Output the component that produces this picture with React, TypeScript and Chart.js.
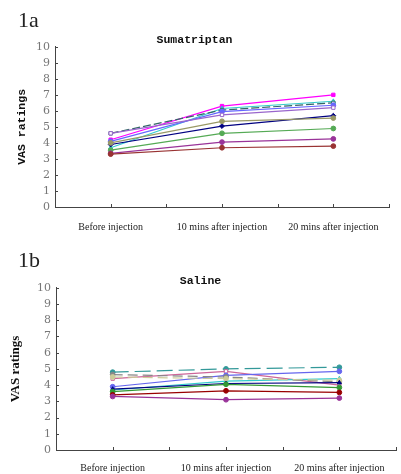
import React, { useEffect, useRef } from "react";
import { Chart, registerables } from "chart.js";

Chart.register(...registerables);

const categories = ["Before injection", "10 mins after injection", "20 mins after injection"];
const yTicks = [0, 1, 2, 3, 4, 5, 6, 7, 8, 9, 10];

// 1a Sumatriptan
const sumaMagenta = [4.2, 6.3, 7.0];
const sumaCyan = [3.7, 6.15, 6.6];
const sumaTeal = [4.6, 6.05, 6.5];
const sumaLavender = [4.6, 5.75, 6.2];
const sumaBlue = [4.1, 5.95, 6.35];
const sumaNavy = [3.9, 5.05, 5.7];
const sumaOlive = [4.0, 5.35, 5.55];
const sumaGreen = [3.55, 4.6, 4.9];
const sumaPurple = [3.35, 4.05, 4.25];
const sumaRed = [3.3, 3.7, 3.8];

// 1b Saline
const salTeal = [4.8, 5.0, 5.1];
const salPink = [4.4, 4.85, 4.0];
const salBlue = [3.9, 4.6, 4.85];
const salCyan = [3.7, 4.25, 4.4];
const salGray = [4.65, 4.5, 4.2];
const salTan = [4.5, 4.4, 4.3];
const salNavy = [3.75, 4.1, 4.15];
const salGreen = [3.6, 4.05, 3.85];
const salRed = [3.4, 3.65, 3.55];
const salPurple = [3.3, 3.1, 3.2];

type S = { data: number[]; color: string; style: string; open?: boolean; dash?: number[] };

const sumaSeries: S[] = [
  { data: sumaRed, color: "#993333", style: "circle" },
  { data: sumaPurple, color: "#993399", style: "circle" },
  { data: sumaGreen, color: "#55AA55", style: "circle" },
  { data: sumaOlive, color: "#999966", style: "circle" },
  { data: sumaNavy, color: "#000080", style: "rectRot" },
  { data: sumaLavender, color: "#9966CC", style: "rect", open: true },
  { data: sumaBlue, color: "#6666FF", style: "circle" },
  { data: sumaTeal, color: "#336666", style: "rect", open: true, dash: [8, 3] },
  { data: sumaCyan, color: "#33CCCC", style: "triangle" },
  { data: sumaMagenta, color: "#FF00FF", style: "rect" },
];

const salSeries: S[] = [
  { data: salPurple, color: "#993399", style: "circle" },
  { data: salRed, color: "#990000", style: "circle" },
  { data: salGreen, color: "#339933", style: "circle" },
  { data: salNavy, color: "#000080", style: "triangle" },
  { data: salTan, color: "#CCCC99", style: "circle", dash: [10, 5] },
  { data: salGray, color: "#888888", style: "circle", dash: [10, 5] },
  { data: salCyan, color: "#33CCCC", style: "triangle" },
  { data: salBlue, color: "#6666EE", style: "circle" },
  { data: salPink, color: "#CC6699", style: "rect", open: true },
  { data: salTeal, color: "#339999", style: "circle", dash: [16, 6] },
];

const innerTicks = {
  id: "innerTicks",
  afterDraw(chart: any) {
    const { ctx, chartArea, scales } = chart;
    ctx.save();
    ctx.strokeStyle = "#444";
    ctx.lineWidth = 1;
    const y = scales.y;
    yTicks.forEach((v) => {
      const py = Math.round(y.getPixelForValue(v)) + 0.5;
      ctx.beginPath();
      ctx.moveTo(chartArea.left, py);
      ctx.lineTo(chartArea.left + 3, py);
      ctx.stroke();
    });
    const x = scales.x;
    for (let i = -0.5; i <= categories.length - 0.5; i += 0.5) {
      const px = Math.round(x.getPixelForValue(i)) + 0.5;
      ctx.beginPath();
      ctx.moveTo(px, chartArea.bottom);
      ctx.lineTo(px, chartArea.bottom - 3);
      ctx.stroke();
    }
    ctx.restore();
  },
};

type PanelProps = {
  series: S[];
  title: string;
  rightPad: number;
  titlePadTop: number;
  yWidth: number;
  xHeight: number;
  xPad: number;
  yTitleFont: any;
  yTitlePad: number;
};

function Panel(p: PanelProps) {
  const ref = useRef<HTMLCanvasElement>(null);
  useEffect(() => {
    const chart = new Chart(ref.current!, {
      type: "line",
      data: {
        labels: categories,
        datasets: p.series.map((s) => ({
          data: s.data,
          borderColor: s.color,
          backgroundColor: s.color,
          pointBackgroundColor: s.open ? "#ffffff" : s.color,
          pointBorderColor: s.color,
          pointStyle: s.style as any,
          pointRadius: 2.4,
          pointBorderWidth: 1,
          borderWidth: 1.2,
          borderDash: s.dash || [],
          tension: 0,
        })),
      },
      options: {
        responsive: false,
        animation: false,
        layout: { padding: { left: 0, right: p.rightPad, top: 0, bottom: 0 } },
        plugins: {
          legend: { display: false },
          tooltip: { enabled: false },
          title: {
            display: true,
            text: p.title,
            color: "#111",
            font: { family: "Liberation Mono", weight: "bold", size: 11.5 },
            padding: { top: p.titlePadTop, bottom: 0 },
          },
        },
        scales: {
          x: {
            type: "category",
            offset: true,
            grid: { display: false, drawTicks: false },
            border: { display: true, color: "#444", width: 1 },
            ticks: {
              color: "#222",
              font: { family: "Liberation Serif", size: 10 },
              padding: p.xPad,
              maxRotation: 0,
              autoSkip: false,
            },
            afterFit: (sc: any) => {
              sc.height = p.xHeight;
            },
          },
          y: {
            min: 0,
            max: 10,
            grid: { display: false, drawTicks: false },
            border: { display: true, color: "#444", width: 1 },
            ticks: {
              stepSize: 1,
              autoSkip: false,
              color: "#777",
              font: { family: "DejaVu Serif", size: 11 },
              padding: 5,
            },
            title: {
              display: true,
              text: "VAS ratings",
              color: "#111",
              font: p.yTitleFont,
              padding: { top: p.yTitlePad, bottom: 0 },
            },
            afterFit: (sc: any) => {
              sc.width = p.yWidth;
            },
          },
        },
      },
      plugins: [innerTicks],
    });
    return () => chart.destroy();
  }, []);
  return <canvas ref={ref} width={401} height={237} style={{ display: "block" }} />;
}

export default function App() {
  const label: React.CSSProperties = {
    position: "absolute",
    left: 18,
    fontFamily: "Liberation Serif",
    fontSize: 22,
    color: "#222",
    lineHeight: 1,
  };
  return (
    <div style={{ position: "fixed", left: 0, top: 0, width: 401, height: 474, background: "#fff", overflow: "hidden" }}>
      <div style={{ position: "absolute", left: 0, top: 0 }}>
        <Panel
          series={sumaSeries}
          title="Sumatriptan"
          rightPad={12}
          titlePadTop={33}
          yWidth={55}
          xHeight={30}
          xPad={14}
          yTitleFont={{ family: "Liberation Mono", weight: "bold", size: 11.5 }}
          yTitlePad={15}
        />
      </div>
      <div style={{ position: "absolute", left: 0, top: 237 }}>
        <Panel
          series={salSeries}
          title="Saline"
          rightPad={0}
          titlePadTop={37}
          yWidth={56}
          xHeight={24}
          xPad={12}
          yTitleFont={{ family: "Liberation Serif", weight: "bold", size: 13 }}
          yTitlePad={8}
        />
      </div>
      <div style={{ ...label, top: 9 }}>1a</div>
      <div style={{ ...label, top: 249 }}>1b</div>
    </div>
  );
}
